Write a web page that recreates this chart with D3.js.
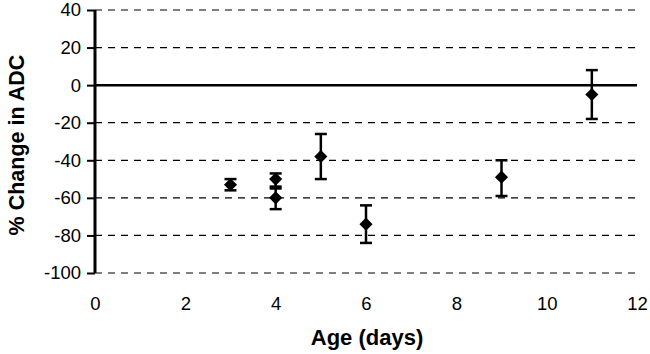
<!DOCTYPE html>
<html>
<head>
<meta charset="utf-8">
<script src="https://cdn.jsdelivr.net/npm/d3@7"></script>
<style>
  body { margin: 0; background: #fff; }
  svg { font-family: "Liberation Sans", Arial, sans-serif; }
  .tick text { font-size: 18.5px; fill: #000; }
</style>
</head>
<body>
<div class="container"></div>
<script>
const WIDTH = 650;
const HEIGHT = 354;

// data
const ages = [3, 4, 4, 5, 6, 9, 11];
const changeMean = [-53, -50, -60, -38, -74, -49, -5];
const errUpper = [-50, -47, -55, -26, -64, -40, 8];
const errLower = [-56, -54, -66, -50, -84, -59, -18];

const xTicks = [0, 2, 4, 6, 8, 10, 12];
const yTicks = [40, 20, 0, -20, -40, -60, -80, -100];

const xScale = d3.scaleLinear().domain([0, 12]).range([95, 637]);
const yScale = d3.scaleLinear().domain([-100, 40]).range([273, 10]);

const points = ages.map(function(a, i) {
  return { x: a, y: changeMean[i], hi: errUpper[i], lo: errLower[i] };
});

const plainNum = function(d) { return String(d); };

const svg = d3.select('.container').append('svg')
  .attr('width', WIDTH)
  .attr('height', HEIGHT);

// gridlines
svg.append('g').selectAll('line')
  .data(yTicks)
  .enter()
  .append('line')
  .attr('x1', xScale(0))
  .attr('x2', xScale(12))
  .attr('y1', function(d) { return yScale(d); })
  .attr('y2', function(d) { return yScale(d); })
  .attr('stroke', '#000')
  .attr('stroke-width', function(d) { return d === 0 ? 2.5 : 1.2; })
  .attr('stroke-dasharray', function(d) { return d === 0 ? null : '7,6'; });

// y axis
const yAxis = d3.axisLeft(yScale).tickValues(yTicks).tickFormat(plainNum)
  .tickSize(8).tickPadding(6);
const gy = svg.append('g')
  .attr('transform', 'translate(' + xScale(0) + ',0)')
  .call(yAxis);
gy.select('.domain').remove();
gy.selectAll('.tick line').attr('stroke', '#000').attr('stroke-width', 2);
svg.append('line')
  .attr('x1', xScale(0)).attr('x2', xScale(0))
  .attr('y1', yScale(40)).attr('y2', yScale(-100))
  .attr('stroke', '#000').attr('stroke-width', 3);

// x axis (labels only)
const xAxis = d3.axisBottom(xScale).tickValues(xTicks).tickFormat(plainNum)
  .tickSize(0).tickPadding(24);
const gx = svg.append('g')
  .attr('transform', 'translate(0,' + yScale(-100) + ')')
  .call(xAxis);
gx.select('.domain').remove();

// error bars
const eb = svg.append('g').selectAll('g')
  .data(points)
  .enter()
  .append('g');
eb.append('line')
  .attr('x1', function(d) { return xScale(d.x); })
  .attr('x2', function(d) { return xScale(d.x); })
  .attr('y1', function(d) { return yScale(d.hi); })
  .attr('y2', function(d) { return yScale(d.lo); })
  .attr('stroke', '#000').attr('stroke-width', 2.5);
eb.append('line')
  .attr('x1', function(d) { return xScale(d.x) - 6; })
  .attr('x2', function(d) { return xScale(d.x) + 6; })
  .attr('y1', function(d) { return yScale(d.hi); })
  .attr('y2', function(d) { return yScale(d.hi); })
  .attr('stroke', '#000').attr('stroke-width', 2.5);
eb.append('line')
  .attr('x1', function(d) { return xScale(d.x) - 6; })
  .attr('x2', function(d) { return xScale(d.x) + 6; })
  .attr('y1', function(d) { return yScale(d.lo); })
  .attr('y2', function(d) { return yScale(d.lo); })
  .attr('stroke', '#000').attr('stroke-width', 2.5);

// diamonds
svg.append('g').selectAll('path')
  .data(points)
  .enter()
  .append('path')
  .attr('d', d3.symbol().type(d3.symbolDiamond2).size(110))
  .attr('transform', function(d) {
    return 'translate(' + xScale(d.x) + ',' + yScale(d.y) + ')';
  })
  .attr('fill', '#000');

// axis titles
svg.append('text')
  .attr('x', 367)
  .attr('y', 345)
  .attr('text-anchor', 'middle')
  .attr('font-size', 22)
  .attr('font-weight', 'bold')
  .text('Age (days)');

svg.append('text')
  .attr('transform', 'translate(24,145) rotate(-90)')
  .attr('text-anchor', 'middle')
  .attr('font-size', 21.5)
  .attr('font-weight', 'bold')
  .text('% Change in ADC');
</script>
</body>
</html>
